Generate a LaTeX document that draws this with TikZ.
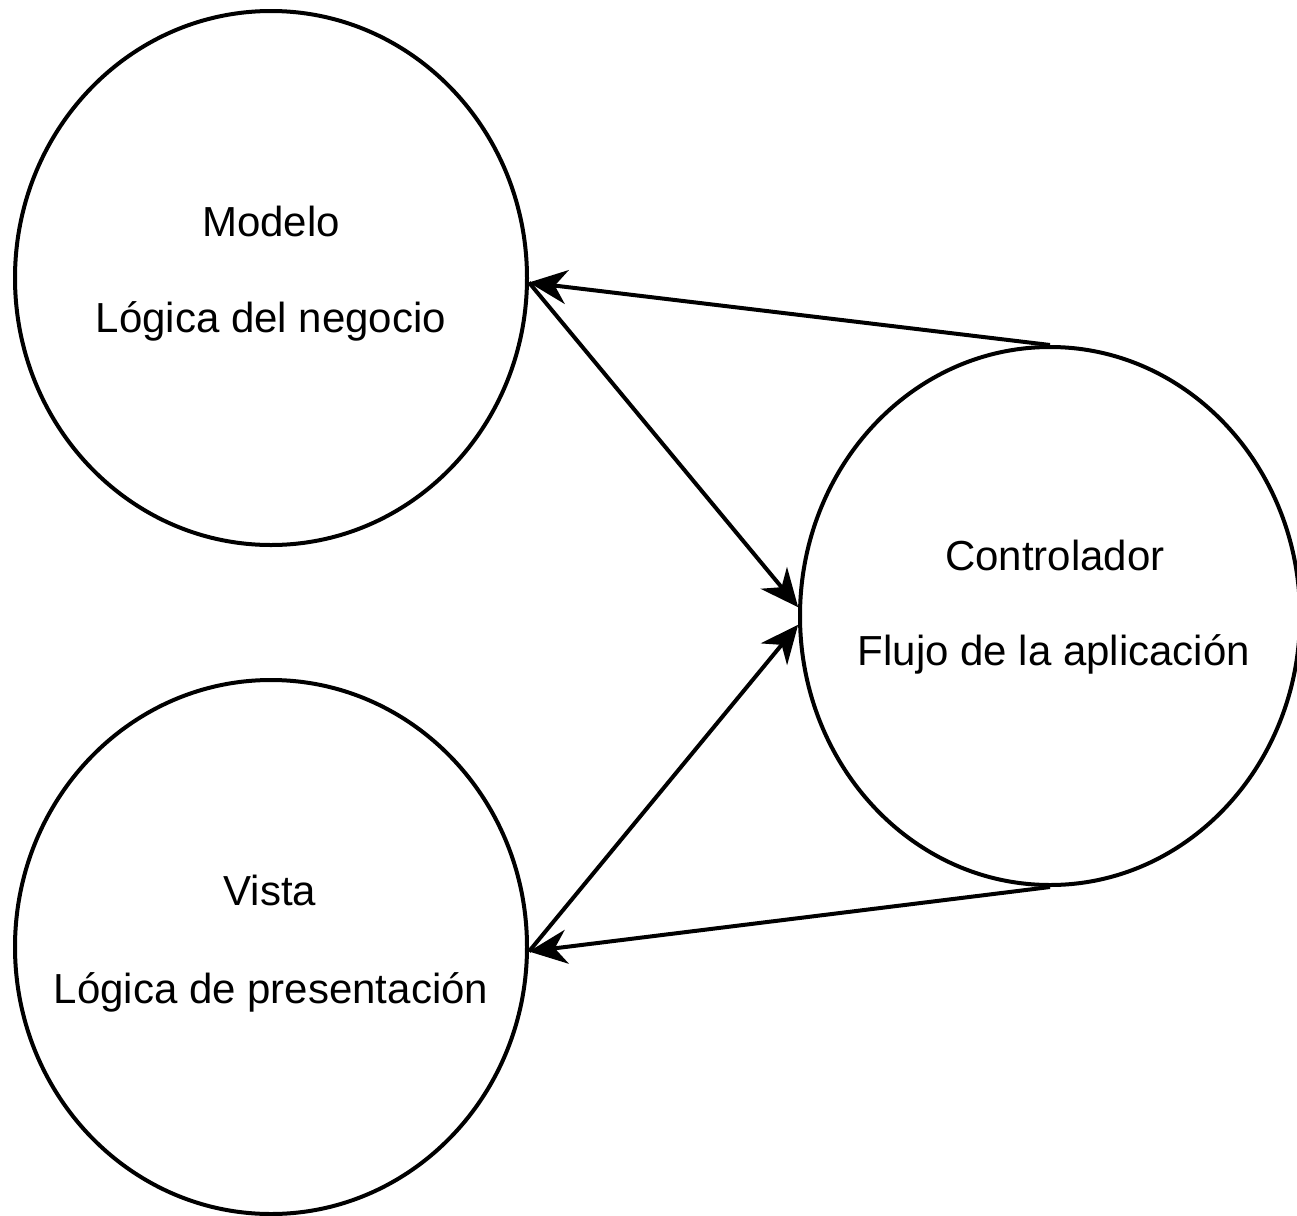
\documentclass[tikz,border=0pt]{standalone}
\usepackage{fontspec}
\setmainfont{Liberation Sans}
\usetikzlibrary{shapes.geometric,arrows.meta}
\begin{document}
\begin{tikzpicture}[x=0.5pt,y=-0.5pt,
  bubble/.style={draw=black,line width=2pt,ellipse,inner sep=0pt,minimum width=256pt,minimum height=267pt},
  txt/.style={anchor=base,inner sep=0pt,font=\fontsize{21}{25}\selectfont,text=black},
  conn/.style={line width=2pt,-{Stealth[length=19pt,width=17pt,inset=6pt]}}]
\useasboundingbox (0,0) rectangle (1297,1216);
\clip (0,0) rectangle (1297,1216);
\fill[white] (0,0) rectangle (1297,1216);
\node[bubble] (modelo) at (271,278) {};
\node[bubble] (vista) at (271,947) {};
\node[bubble,minimum width=250pt,minimum height=269pt] (ctrl) at (1050,616) {};
\node[txt] (m1) at (271,236) {Modelo};
\node[txt] (m2) at (271,332) {Lógica del negocio};
\node[txt] (c1) at (1055,570) {Controlador};
\node[txt] (c2) at (1054,665) {Flujo de la aplicación};
\node[txt] (v1) at (270,905) {Vista};
\node[txt] (v2) at (271,1003) {Lógica de presentación};
\draw[conn] (ctrl.north) -- (modelo.-1);
\draw[conn] (ctrl.south) -- (vista.-1);
\draw[conn] (modelo.-1) -- (ctrl.178);
\draw[conn] (vista.-1) -- (ctrl.182);
\end{tikzpicture}
\end{document}
